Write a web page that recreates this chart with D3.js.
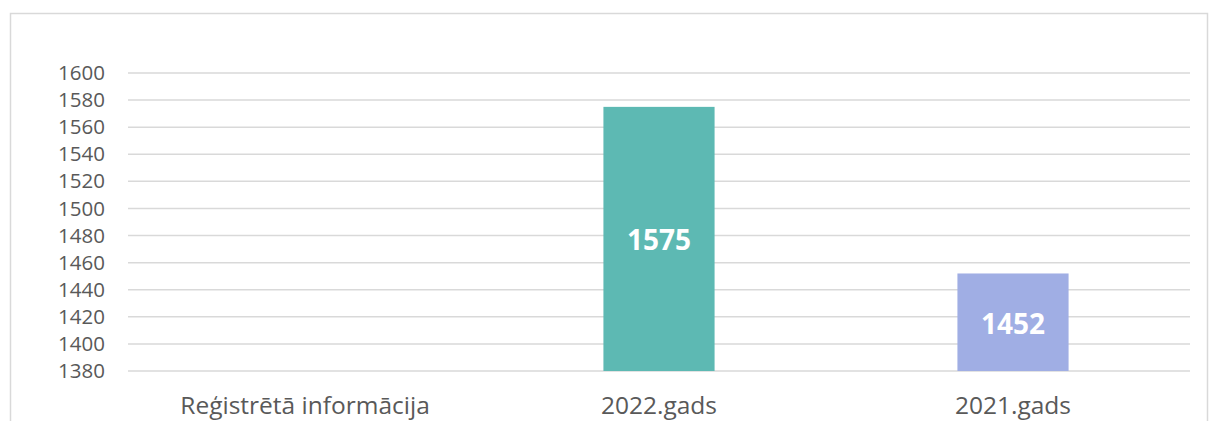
<!DOCTYPE html>
<html>
<head>
<meta charset="utf-8">
<script src="https://cdn.jsdelivr.net/npm/d3@7"></script>
<style>
  body { margin: 0; background: #fff; }
  svg { display: block; font-family: "Open Sans", sans-serif; }
</style>
</head>
<body>
<div id="chart"></div>
<script>
// categories + values
const categories = ["Reģistrētā informācija", "2022.gads", "2021.gads"];
const values = [null, 1575, 1452];
const barColors = [null, "#5db9b3", "#a0aee4"];
const yTicks = [1380, 1400, 1420, 1440, 1460, 1480, 1500, 1520, 1540, 1560, 1580, 1600];

const W = 1209, H = 421;
const margin = { top: 73, right: 19, bottom: 50, left: 128 };
const width = W - margin.left - margin.right,
      height = H - margin.top - margin.bottom;

const svg = d3.select("#chart").append("svg")
    .attr("width", W)
    .attr("height", H);

// outer chart frame (bottom runs off the page)
svg.append("rect")
    .attr("x", 10.5).attr("y", 13.5)
    .attr("width", 1197).attr("height", 420)
    .attr("fill", "none")
    .attr("stroke", "#d9d9d9")
    .attr("stroke-width", 1.5);

const g = svg.append("g")
    .attr("transform", `translate(${margin.left},${margin.top})`);

const x = d3.scaleBand()
    .domain(categories)
    .range([0, width])
    .paddingInner(0.686)
    .paddingOuter(0.343);

const y = d3.scaleLinear()
    .domain([1380, 1600])
    .range([height, 0]);

// gridlines
g.append("g")
    .selectAll("line")
    .data(yTicks)
    .join("line")
    .attr("x1", 0).attr("x2", width)
    .attr("y1", d => y(d)).attr("y2", d => y(d))
    .attr("stroke", "#d9d9d9")
    .attr("stroke-width", 1.5);

// y axis labels
const yAxis = g.append("g")
    .attr("transform", "translate(-23,0)")
    .call(d3.axisLeft(y).tickValues(yTicks).tickFormat(d3.format("d")).tickSize(0).tickPadding(0));
yAxis.select(".domain").remove();
yAxis.selectAll("text")
    .attr("fill", "#595959")
    .style("font-size", "20.5px")
    .style("font-family", "Open Sans, sans-serif");

// x axis labels
const xAxis = g.append("g")
    .attr("transform", `translate(0,${height})`)
    .call(d3.axisBottom(x).tickSize(0).tickPadding(26));
xAxis.select(".domain").remove();
xAxis.selectAll("text")
    .attr("fill", "#595959")
    .style("font-size", "24.5px")
    .style("font-family", "Open Sans, sans-serif");

const data = categories.map((c, i) => ({ cat: c, v: values[i], col: barColors[i] }))
    .filter(d => d.v != null);

g.selectAll(".bar")
    .data(data)
    .join("rect")
    .attr("class", "bar")
    .attr("x", d => x(d.cat))
    .attr("y", d => y(d.v))
    .attr("width", x.bandwidth())
    .attr("height", d => height - y(d.v))
    .attr("fill", d => d.col);

g.selectAll(".val")
    .data(data)
    .join("text")
    .attr("class", "val")
    .attr("x", d => x(d.cat) + x.bandwidth() / 2)
    .attr("y", d => (y(d.v) + height) / 2 + 4)
    .attr("text-anchor", "middle")
    .attr("dominant-baseline", "middle")
    .attr("fill", "#fff")
    .style("font-weight", "bold")
    .style("font-size", "28px")
    .text(d => d.v);
</script>
</body>
</html>
